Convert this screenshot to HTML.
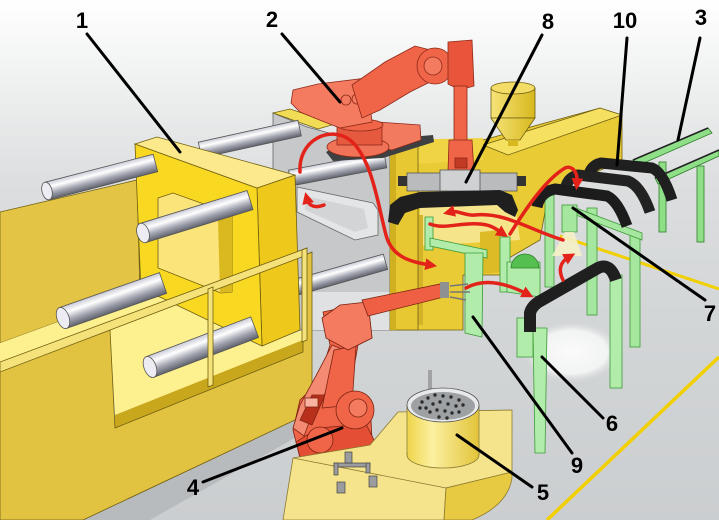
<!DOCTYPE html>
<html><head><meta charset="utf-8"><style>
html,body{margin:0;padding:0;background:#fff;width:719px;height:520px;overflow:hidden}
svg{display:block}
.lb{font-family:"Liberation Sans",Arial,sans-serif;font-weight:bold;font-size:22px;fill:#000}
</style></head><body>
<svg width="719" height="520" viewBox="0 0 719 520" xmlns="http://www.w3.org/2000/svg">
<defs>
<linearGradient id="bg" x1="0" y1="0" x2="0" y2="1">
 <stop offset="0" stop-color="#ffffff"/>
 <stop offset="0.12" stop-color="#f3f4f4"/>
 <stop offset="0.35" stop-color="#dcdedf"/>
 <stop offset="0.6" stop-color="#d3d6d7"/>
 <stop offset="1" stop-color="#cbced0"/>
</linearGradient>
<linearGradient id="rod" x1="0" y1="0" x2="0" y2="1">
 <stop offset="0" stop-color="#c9cad6"/>
 <stop offset="0.3" stop-color="#ffffff"/>
 <stop offset="0.65" stop-color="#a4a6b2"/>
 <stop offset="1" stop-color="#5f616b"/>
</linearGradient>
<linearGradient id="cyl" x1="0" y1="0" x2="1" y2="0">
 <stop offset="0" stop-color="#efd54a"/>
 <stop offset="0.35" stop-color="#fbf0a0"/>
 <stop offset="1" stop-color="#e2c43a"/>
</linearGradient>
<linearGradient id="hop" x1="0" y1="0" x2="1" y2="0">
 <stop offset="0" stop-color="#f7e47a"/>
 <stop offset="1" stop-color="#d7b81e"/>
</linearGradient>
<radialGradient id="spot" cx="0.5" cy="0.5" r="0.5">
 <stop offset="0" stop-color="#fbfbfb"/>
 <stop offset="0.7" stop-color="#f2f3f3"/>
 <stop offset="1" stop-color="#d6d8d9" stop-opacity="0"/>
</radialGradient>
<marker id="ah" viewBox="0 0 10 10" refX="4" refY="5" markerWidth="3.4" markerHeight="3.4" orient="auto">
 <path d="M0,0 L10,5 L0,10 z" fill="#e3221a"/>
</marker>
</defs>

<rect width="719" height="520" fill="url(#bg)"/>

<!-- floor lines & shadows -->
<path d="M560,236 L719,289" stroke="#f2cf00" stroke-width="3"/>
<path d="M547,520 L719,357" stroke="#f2cf00" stroke-width="3.5"/>
<polygon points="83,520 312,412 330,418 150,520" fill="#b8bbbd"/>
<ellipse cx="572" cy="352" rx="50" ry="31" fill="url(#spot)"/>

<!-- rack 3 -->
<g stroke="#2e7d2a" stroke-width="0.8" fill="#8fdf88">
 <rect x="659" y="162" width="7" height="70"/>
 <rect x="697" y="166" width="7" height="76"/>
 <polygon points="633,160 708,128 712,133 637,166"/>
 <polygon points="655,178 719,150 719,156 658,184"/>
</g>
<line x1="633" y1="160" x2="708" y2="128" stroke="#222" stroke-width="1.6"/>
<line x1="655" y1="178" x2="719" y2="150" stroke="#222" stroke-width="1.6"/>

<!-- injection unit -->
<polygon points="395,148 483,140 600,108 622,115 622,160 548,195 540,240 502,262 500,275 463,275 463,330 395,330" fill="#e9cb35" stroke="#6f5f10" stroke-width="0.8"/>
<polygon points="483,145 600,108 622,115 508,155" fill="#f5e060" stroke="#6f5f10" stroke-width="0.8"/>
<polygon points="395,140 483,138 483,160 395,165" fill="#f0d444"/>
<polygon points="420,205 515,205 520,240 420,246" fill="#f5e48a"/>
<polygon points="400,215 423,215 423,325 400,325" fill="#d4b22a"/>
<polygon points="480,232 500,230 500,272 480,274" fill="#dcbb26"/>
<!-- hopper -->
<rect x="491" y="88" width="44" height="30" fill="url(#hop)" stroke="#6f5f10" stroke-width="0.8"/>
<polygon points="491,118 535,118 520,140 506,140" fill="url(#hop)" stroke="#6f5f10" stroke-width="0.8"/>
<rect x="508" y="140" width="10" height="6" fill="#d7b81e"/>
<ellipse cx="513" cy="88" rx="22" ry="6" fill="#f3dd66" stroke="#6f5f10" stroke-width="0.8"/>

<!-- gray platen -->
<polygon points="273,113 307,127 392,150 392,330 273,330" fill="#c6c8ca" stroke="#666" stroke-width="0.8"/>
<polygon points="273,113 290,109 335,124 318,129" fill="#f2dc55" stroke="#6f5f10" stroke-width="0.8"/>
<polygon points="297,187 373,203 378,210 378,235 355,240 297,212" fill="#e3e5e6" stroke="#666" stroke-width="0.8"/>
<polygon points="305,196 364,209 368,228 355,232 305,210" fill="#d2d4d6"/>
<polygon points="310,292 390,292 390,330 310,330" fill="#dfe1e2"/>
<polygon points="390,150 418,144 418,330 390,330" fill="#e8c832" stroke="#6f5f10" stroke-width="0.8"/>
<rect x="390" y="150" width="6" height="180" fill="#d1b020"/>

<!-- rods behind -->
<g transform="translate(200,150) rotate(-12.4)"><rect x="0" y="-8" width="102" height="16" fill="url(#rod)" stroke="#555" stroke-width="0.8"/></g>
<g transform="translate(290,178) rotate(-10.7)"><rect x="0" y="-8" width="97" height="16" fill="url(#rod)" stroke="#555" stroke-width="0.8"/></g>
<g transform="translate(297,287) rotate(-15.9)"><rect x="0" y="-8" width="92" height="16" fill="url(#rod)" stroke="#555" stroke-width="0.8"/></g>

<!-- base slab -->
<polygon points="0,212 137,180 140,292 0,343" fill="#e3c444" stroke="#6f5f10" stroke-width="0.8"/>
<polygon points="0,343 140,292 160,297 260,346 303,330 303,341 115,415 110,330 0,370" fill="#fdf08e"/>
<polygon points="115,415 303,340 303,352 115,428" fill="#c9a71c"/>
<polygon points="0,370 110,330 115,428 303,352 303,256 312,252 312,412 83,520 0,520" fill="#e2c241" stroke="#6f5f10" stroke-width="0.8"/>

<!-- block 1 -->
<polygon points="257,188 295,175 300,330 262,346" fill="#efc81c" stroke="#6f5f10" stroke-width="0.8"/>
<polygon points="135,144 257,188 262,346 160,297 141,292" fill="#f9d822" stroke="#6f5f10" stroke-width="0.8"/>
<polygon points="135,144 157,137 295,175 257,188" fill="#fbe98c" stroke="#6f5f10" stroke-width="0.8"/>
<polygon points="158,198 173,193 232,214 232,292 221,293 158,268" fill="#fbe47a" stroke="#6f5f10" stroke-width="0.8"/>
<polygon points="218,219 232,214 232,292 220,293" fill="#d9b820"/>

<!-- rods front -->
<g transform="translate(47,191) rotate(-14.5)"><rect x="0" y="-9" width="112" height="18" fill="url(#rod)" stroke="#555" stroke-width="0.8"/><ellipse cx="0" cy="0" rx="5" ry="9" fill="#ececf2" stroke="#555" stroke-width="0.8"/></g>
<g transform="translate(143,233) rotate(-17.1)"><rect x="0" y="-10" width="112" height="20" fill="url(#rod)" stroke="#555" stroke-width="0.8"/><ellipse cx="0" cy="0" rx="6" ry="10" fill="#ececf2" stroke="#555" stroke-width="0.8"/></g>
<g transform="translate(63,318) rotate(-19.3)"><rect x="0" y="-11" width="106" height="22" fill="url(#rod)" stroke="#555" stroke-width="0.8"/><ellipse cx="0" cy="0" rx="6" ry="11" fill="#ececf2" stroke="#555" stroke-width="0.8"/></g>
<g transform="translate(150,367) rotate(-20.85)"><rect x="0" y="-11" width="112" height="22" fill="url(#rod)" stroke="#555" stroke-width="0.8"/><ellipse cx="0" cy="0" rx="6" ry="11" fill="#ececf2" stroke="#555" stroke-width="0.8"/></g>

<!-- rail -->
<g fill="#f6e27a" stroke="#6f5f10" stroke-width="0.8">
 <polygon points="0,362 307,248 307,255 0,372"/>
 <polygon points="208,289 213,287 213,385 208,387"/>
 <polygon points="302,250 307,248 307,340 302,342"/>
</g>

<!-- robot 2 -->
<g stroke="#8c2a18" stroke-width="0.8">
 <polygon points="326,152 342,143 433,135 434,142 383,158 333,161" fill="#3d3f41" stroke="none"/>
 <polygon points="378,122 420,125 421,140 392,150 380,148" fill="#f27a5f"/>
 <ellipse cx="358" cy="147" rx="31" ry="10" fill="#f07257"/>
 <rect x="337" y="125" width="45" height="20" fill="#e55a3f"/>
 <ellipse cx="360" cy="125" rx="23" ry="6" fill="#f06448"/>
 <polygon points="293,90 318,84 367,78 372,122 340,128 322,121 300,112 291,103" fill="#f47a60"/>
 <circle cx="346" cy="100" r="5" fill="#f47a60"/>
 <circle cx="357" cy="99" r="5" fill="#f47a60"/>
 <polygon points="352,85 385,62 415,46 438,52 444,75 410,92 380,110 362,118" fill="#f06448"/>
 <circle cx="435" cy="66" r="18" fill="#f06448"/>
 <circle cx="433" cy="66" r="9" fill="#f47a60"/>
 <polygon points="448,42 472,40 474,86 460,90 448,84" fill="#e9553a"/>
 <rect x="454" y="86" width="13" height="58" fill="#f06448"/>
 <polygon points="449,140 472,140 474,172 448,172" fill="#f06448"/>
 <rect x="455" y="158" width="12" height="10" fill="#c33a24"/>
</g>

<!-- gripper 8 and bumper -->
<rect x="407" y="173" width="110" height="18" fill="#b9bbbd" stroke="#555" stroke-width="0.8"/>
<rect x="440" y="170" width="40" height="21" fill="#cfd1d2" stroke="#555" stroke-width="0.8"/>
<rect x="398" y="176" width="9" height="10" fill="#333"/>
<rect x="517" y="176" width="9" height="10" fill="#333"/>
<polygon points="388,222 390,205 400,197 420,192 500,190 512,195 518,210 515,217 505,212 497,205 420,208 405,213 398,225" fill="#1f1f1f"/>

<!-- stand 7 & back posts -->
<g fill="#a6e79f" stroke="#3d9a38" stroke-width="0.8">
 <rect x="545" y="195" width="9" height="92"/>
 <rect x="587" y="208" width="10" height="107"/>
 <rect x="630" y="235" width="10" height="112"/>
 <polygon points="568,205 642,233 642,240 568,212"/>
 <rect x="562" y="205" width="15" height="27"/>
</g>
<polygon points="565,232 574,232 582,256 552,256" fill="#f5f0c8" opacity="0.9"/>

<!-- bumpers 10 -->
<g fill="none" stroke-linejoin="round">
 <path d="M588,180 Q589,166 601,163 L652,168 Q663,172 672,200" stroke="#1f1f1f" stroke-width="11"/>
 <path d="M565,192 Q566,178 578,175 L628,181 Q641,186 650,212" stroke="#222" stroke-width="11"/>
 <path d="M537,207 Q540,192 555,189 L607,196 Q618,201 627,226" stroke="#1c1c1c" stroke-width="11"/>
</g>

<!-- stand 9 -->
<g fill="#b2ecab" stroke="#3d9a38" stroke-width="0.8">
 <rect x="425" y="217" width="8" height="33"/>
 <polygon points="430,238 487,250 487,258 430,246"/>
 <polygon points="465,253 483,253 482,337 465,333"/>
 <rect x="500" y="237" width="10" height="55"/>
 <polygon points="507,262 540,262 540,297 507,292"/>
</g>
<path d="M511,268 A14,14 0 0 1 539,268 Z" fill="#55c050" stroke="#2e7d2a" stroke-width="0.8"/>

<!-- stand 6 -->
<g fill="#b2ecab" stroke="#3d9a38" stroke-width="0.8">
 <rect x="610" y="275" width="12" height="113"/>
 <rect x="517" y="318" width="16" height="39"/>
 <polygon points="533,328 547,328 545,453 535,453"/>
</g>
<path d="M530,332 L530,313 Q532,305 542,300 L598,268 Q610,262 616,280" fill="none" stroke="#1f1f1f" stroke-width="12" stroke-linejoin="round"/>

<!-- robot 4 -->
<g stroke="#7d2412" stroke-width="0.8">
 <polygon points="323,312 368,302 372,338 358,345 350,390 370,400 372,440 366,458 300,458 293,430 300,400 318,383 330,345" fill="#f06448"/>
 <polygon points="300,457 296,442 318,428 366,424 374,440 368,458" fill="#e44e34"/>
 <circle cx="320" cy="440" r="13" fill="#f06448"/>
 <polygon points="293,428 300,405 318,372 332,345 344,350 328,388 310,420 304,436" fill="#f58a72"/>
 <polygon points="300,420 312,395 325,395 312,425" fill="#b8301c"/>
 <polygon points="322,408 334,350 356,346 352,405" fill="#f06448"/>
 <circle cx="355" cy="410" r="19" fill="#f06448"/>
 <circle cx="358" cy="408" r="9" fill="#f47a60"/>
 <polygon points="322,318 340,305 368,302 372,338 348,350 326,338" fill="#f47a60"/>
 <polygon points="362,300 440,284 444,297 368,316" fill="#ee5f43"/>
 <rect x="305" y="398" width="13" height="9" fill="#f9b3a0"/>
</g>
<rect x="440" y="282" width="9" height="16" fill="#8e9092"/>
<path d="M450,286 L468,284 M450,292 L470,292 M450,297 L466,300" stroke="#777" stroke-width="1.5"/>

<!-- table -->
<polygon points="293,458 370,445 398,412 512,410 512,472 446,488 444,520 283,520" fill="#f6e48c" stroke="#8a7a30" stroke-width="0.8"/>
<path d="M446,488 L512,472 L512,478 Q508,505 472,520 L444,520 Z" fill="#e8c942" stroke="#8a7a30" stroke-width="0.8"/>
<line x1="293" y1="458" x2="446" y2="488" stroke="#8a7a30" stroke-width="0.8"/>
<ellipse cx="443" cy="455" rx="36" ry="13" fill="url(#cyl)" stroke="#8a7a30" stroke-width="0.8"/>
<rect x="407.5" y="405" width="71" height="50" fill="url(#cyl)"/>
<line x1="407" y1="405" x2="407" y2="455" stroke="#8a7a30" stroke-width="0.8"/>
<line x1="479" y1="405" x2="479" y2="455" stroke="#8a7a30" stroke-width="0.8"/>
<rect x="428" y="370" width="4" height="30" fill="#a0a2a4"/>
<ellipse cx="443" cy="405" rx="36" ry="17" fill="#e8e9ea" stroke="#555" stroke-width="0.8"/>
<ellipse cx="443" cy="406" rx="32" ry="14" fill="#9ea1a3"/>
<g fill="#2c2c2c">
 <circle cx="422" cy="402" r="1.7"/><circle cx="428" cy="398" r="1.7"/><circle cx="435" cy="395" r="1.7"/>
 <circle cx="443" cy="396" r="1.7"/><circle cx="451" cy="397" r="1.7"/><circle cx="459" cy="400" r="1.7"/>
 <circle cx="426" cy="408" r="1.7"/><circle cx="433" cy="404" r="1.7"/><circle cx="440" cy="402" r="1.7"/>
 <circle cx="448" cy="404" r="1.7"/><circle cx="456" cy="406" r="1.7"/><circle cx="463" cy="405" r="1.7"/>
 <circle cx="430" cy="412" r="1.7"/><circle cx="437" cy="410" r="1.7"/><circle cx="445" cy="411" r="1.7"/>
 <circle cx="452" cy="413" r="1.7"/><circle cx="459" cy="412" r="1.7"/><circle cx="439" cy="417" r="1.7"/>
 <circle cx="447" cy="418" r="1.7"/><circle cx="420" cy="408" r="1.7"/>
</g>
<g fill="#9a9c9e" stroke="#444" stroke-width="0.7">
 <rect x="334" y="463" width="36" height="4"/>
 <rect x="334" y="463" width="4" height="12"/>
 <rect x="366" y="463" width="4" height="10"/>
 <rect x="345" y="452" width="7" height="11"/>
 <rect x="337" y="482" width="8" height="11"/>
 <rect x="369" y="476" width="8" height="11"/>
</g>

<!-- red arrows -->
<g fill="none" stroke="#e3221a" stroke-width="3.5" stroke-linecap="round" marker-end="url(#ah)">
 <path d="M300,172 C298,140 330,125 350,140 C372,158 378,205 386,235 C392,258 412,262 430,265"/>
 <path d="M324,205 C316,208 309,207 307,199"/>
 <path d="M563,240 C530,230 505,212 475,215 C465,216 458,210 450,212"/>
 <path d="M430,224 C445,230 460,222 480,224 C492,225 496,229 502,233"/>
 <path d="M510,234 C525,210 545,180 565,168 C572,165 578,172 577,183"/>
 <path d="M466,288 C480,280 500,280 527,294"/>
 <path d="M563,280 C558,270 560,262 569,257"/>
</g>

<!-- leader lines -->
<g stroke="#000" stroke-width="3" stroke-linecap="round">
 <line x1="87" y1="34" x2="180" y2="152"/>
 <line x1="282" y1="34" x2="340" y2="102"/>
 <line x1="542" y1="35" x2="466" y2="182"/>
 <line x1="627" y1="38" x2="617" y2="165"/>
 <line x1="700" y1="38" x2="678" y2="140"/>
 <line x1="573" y1="208" x2="705" y2="300"/>
 <line x1="542" y1="357" x2="603" y2="418"/>
 <line x1="473" y1="317" x2="572" y2="453"/>
 <line x1="457" y1="435" x2="532" y2="487"/>
 <line x1="203" y1="482" x2="342" y2="428"/>
</g>

<!-- labels -->
<text class="lb" x="82" y="28" text-anchor="middle">1</text>
<text class="lb" x="272" y="27" text-anchor="middle">2</text>
<text class="lb" x="548" y="29" text-anchor="middle">8</text>
<text class="lb" x="625" y="28" text-anchor="middle">10</text>
<text class="lb" x="701" y="25" text-anchor="middle">3</text>
<text class="lb" x="710" y="321" text-anchor="middle">7</text>
<text class="lb" x="612" y="431" text-anchor="middle">6</text>
<text class="lb" x="577" y="473" text-anchor="middle">9</text>
<text class="lb" x="543" y="500" text-anchor="middle">5</text>
<text class="lb" x="193" y="495" text-anchor="middle">4</text>
</svg>
</body></html>
